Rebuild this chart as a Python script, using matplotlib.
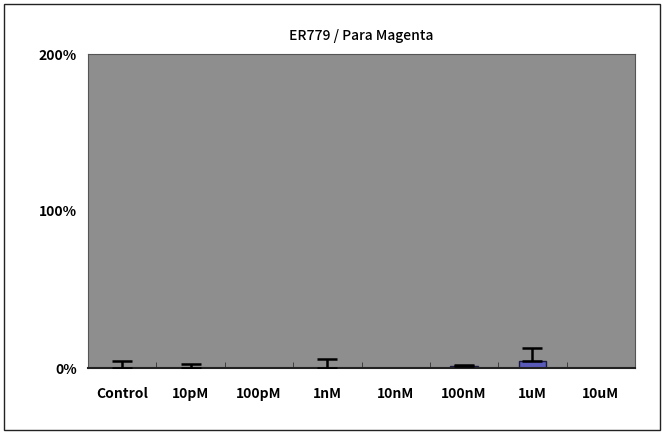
import matplotlib
matplotlib.use("Agg")
import matplotlib.pyplot as plt
import numpy as np

plt.rcParams['font.family'] = ['Noto Sans CJK JP', 'DejaVu Sans']

categories = ['Control', '10pM', '100pM', '1nM', '10nM', '100nM', '1uM', '10uM']
values = [0.0, 0.0, 0.0, 0.0, 0.0, 1.0, 4.5, 0.0]
errors = [4.5, 2.5, 0.0, 6.0, 0.0, 0.8, 8.0, 0.0]

fig = plt.figure(figsize=(6.64, 4.34), dpi=100)
fig.patch.set_facecolor('white')
# outer border of the chart
fig.add_artist(plt.Rectangle((0.006, 0.01), 0.988, 0.98, transform=fig.transFigure,
                             fill=False, edgecolor='#222222', linewidth=1.0))

ax = fig.add_axes([88 / 664, 1 - 368 / 434, (635 - 88) / 664, (368 - 54) / 434])
ax.set_facecolor('#8e8e8e')

x = np.arange(len(categories))
ax.bar(x, values, width=0.4, color='#5a5ab8', edgecolor='#1a1a40', linewidth=1.0, zorder=2)
err_x = [xi for xi, e in zip(x, errors) if e > 0]
err_y = [v for v, e in zip(values, errors) if e > 0]
err_e = [e for e in errors if e > 0]
ax.errorbar(err_x, err_y, yerr=[np.zeros(len(err_e)), err_e], fmt='none',
            ecolor='black', elinewidth=1.8, capsize=7, capthick=1.8, zorder=3)

ax.set_xlim(-0.5, len(categories) - 0.5)
ax.set_ylim(0, 200)
ax.set_yticks([0, 100, 200])
ax.set_yticklabels(['0%', '100%', '200%'], fontsize=10, fontweight='bold')
ax.set_xticks(x)
ax.set_xticklabels(categories, fontsize=10, fontweight='bold')
ax.tick_params(axis='x', length=0, pad=14)
ax.tick_params(axis='y', length=0, pad=8)
ax.set_xticks(np.arange(0.5, len(categories) - 1, 1), minor=True)
ax.tick_params(axis='x', which='minor', direction='in', length=4, color='#333333')

for s in ['top', 'right', 'left']:
    ax.spines[s].set_color('#555555')
    ax.spines[s].set_linewidth(0.8)
ax.spines['bottom'].set_color('#222222')
ax.spines['bottom'].set_linewidth(1.5)

ax.set_title('ER779 / Para Magenta', fontsize=10, fontweight='medium', pad=10)

fig.savefig('out.png', dpi=100)
